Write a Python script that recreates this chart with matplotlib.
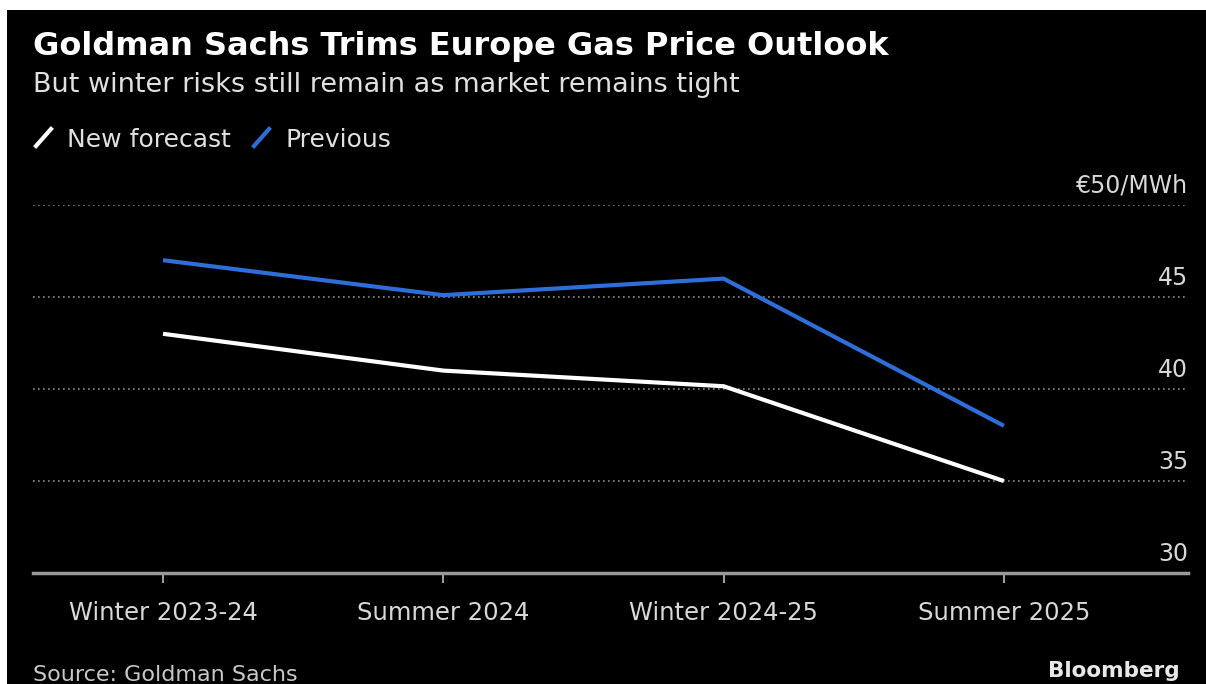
import numpy as np
import matplotlib.pyplot as plt
from matplotlib.lines import Line2D
from matplotlib.patches import Rectangle
import matplotlib.transforms as mtransforms

# Goldman Sachs Europe gas price outlook, EUR/MWh
periods = ["Winter 2023-24", "Summer 2024", "Winter 2024-25", "Summer 2025"]
new_forecast = [43.0, 41.0, 40.15, 35.0]
previous = [47.0, 45.1, 46.0, 38.0]
y_ticks = [30, 35, 40, 45, 50]
y_tick_labels = ["30", "35", "40", "45", "€50/MWh"]

W, H = 1206, 684
BLUE = "#2e6ed8"

fig = plt.figure(figsize=(W / 100, H / 100), dpi=100, facecolor="white")
# black panel (reference has a thin white margin top and left)
fig.add_artist(Rectangle((7 / W, 0), 1, 1 - 10 / H, transform=fig.transFigure,
                         facecolor="black", edgecolor="none", zorder=0))

def fx(px):
    return px / W

def fy(py):
    return 1 - py / H

ax = fig.add_axes([fx(33), fy(573), fx(1188) - fx(33), fy(205) - fy(573)])
ax.patch.set_alpha(0)

x = np.arange(len(periods))
ax.plot(x, new_forecast, color="white", lw=3, solid_capstyle="butt", zorder=3)
ax.plot(x, previous, color=BLUE, lw=3, solid_capstyle="butt", zorder=3)

ax.set_xlim(-0.464, 3.657)
ax.set_ylim(30, 50)

for s in ["top", "right", "left"]:
    ax.spines[s].set_visible(False)
ax.spines["bottom"].set_color("#9a9a9a")
ax.spines["bottom"].set_linewidth(2.5)

ax.set_xticks(x)
ax.set_xticklabels(periods, color="#d8d8d8", fontsize=17.5)
ax.tick_params(axis="x", length=7, width=1.5, color="#9a9a9a", pad=13)
ax.set_yticks([])

# dotted gridlines
for v in y_ticks[1:]:
    ax.axhline(v, color="#8a8a8a", lw=1.2, ls=(0, (1, 2)), zorder=1)

# y labels sit above gridlines, right-aligned inside the axes
trans = mtransforms.blended_transform_factory(ax.transAxes, ax.transData)
offset = mtransforms.offset_copy(trans, fig=fig, x=0, y=12, units="dots")
for v, lab in zip(y_ticks, y_tick_labels):
    ax.text(1.0, v, lab, transform=offset, ha="right", va="baseline",
            color="#d8d8d8", fontsize=17)

# header
fig.text(fx(33), fy(55), "Goldman Sachs Trims Europe Gas Price Outlook",
         color="white", fontsize=23, fontweight="bold", va="baseline")
fig.text(fx(33), fy(92), "But winter risks still remain as market remains tight",
         color="#e0e0e0", fontsize=19.5, va="baseline")

# legend with slanted glyphs
fig.add_artist(Line2D([fx(36), fx(51)], [fy(146), fy(129)], color="white", lw=3,
                      transform=fig.transFigure))
fig.text(fx(67), fy(147), "New forecast", color="#e0e0e0", fontsize=18, va="baseline")
fig.add_artist(Line2D([fx(254), fx(269)], [fy(146), fy(129)], color=BLUE, lw=3,
                      transform=fig.transFigure))
fig.text(fx(285), fy(147), "Previous", color="#e0e0e0", fontsize=18, va="baseline")

# footer
fig.text(fx(33), fy(681), "Source: Goldman Sachs", color="#c8c8c8", fontsize=16,
         va="baseline")
fig.text(fx(1180), fy(677), "Bloomberg", color="#e8e8e8", fontsize=15.5,
         fontweight="bold", ha="right", va="baseline")

fig.savefig("out.png", dpi=100, facecolor=fig.get_facecolor())
